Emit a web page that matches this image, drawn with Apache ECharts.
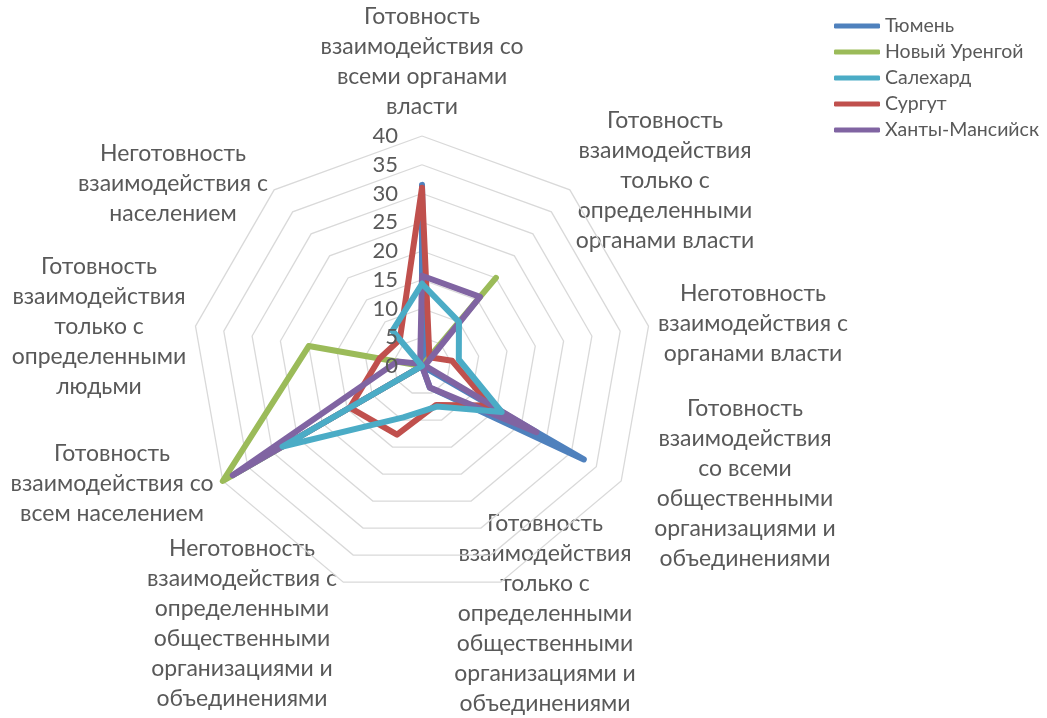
<!DOCTYPE html>
<html>
<head>
<meta charset="utf-8">
<script src="https://cdn.jsdelivr.net/npm/echarts@6/dist/echarts.min.js"></script>
<style>
html,body{margin:0;padding:0;background:#fff;}
#chart{width:1047px;height:718px;}
</style>
</head>
<body>
<div id="chart"></div>
<script>
// Axes, clockwise from the top
const categories = [
  'Готовность\nвзаимодействия со\nвсеми органами\nвласти',
  'Готовность\nвзаимодействия\nтолько с\nопределенными\nорганами власти',
  'Неготовность\nвзаимодействия с\nорганами власти',
  'Готовность\nвзаимодействия\nсо всеми\nобщественными\nорганизациями и\nобъединениями',
  'Готовность\nвзаимодействия\nтолько с\nопределенными\nобщественными\nорганизациями и\nобъединениями',
  'Неготовность\nвзаимодействия с\nопределенными\nобщественными\nорганизациями и\nобъединениями',
  'Готовность\nвзаимодействия со\nвсем населением',
  'Готовность\nвзаимодействия\nтолько с\nопределенными\nлюдьми',
  'Неготовность\nвзаимодействия с\nнаселением'
];
const seriesNames = ['Тюмень', 'Новый Уренгой', 'Салехард', 'Сургут', 'Ханты-Мансийск'];
const tyumen     = [31.5, 1, 0, 32.5, 4, 0, 38, 0, 0];
const novUrengoy = [0, 20, 0, 0, 0, 0, 40, 20, 0];
const salekhard  = [14.3, 10, 6.5, 16, 7.5, 9.5, 28, 0, 8];
const surgut     = [31, 2, 5.3, 13.7, 7.2, 12.7, 14.5, 7.5, 6];
const khm        = [15.7, 15.7, 0.5, 23, 4, 0, 38, 4.4, 0.5];
const axisMin = 0, axisMax = 40, axisStep = 5;

// layout (not data)
const colors = {
  'Тюмень': '#4F81BD', 'Новый Уренгой': '#9BBB59', 'Салехард': '#4BACC6',
  'Сургут': '#C0504D', 'Ханты-Мансийск': '#8064A2'
};
const labelPos = [[422,2],[665,106],[753,279],[745,394],[545,509],[242,534],[112,439],[99,252],[173,139]];
const drawOrder = ['Тюмень', 'Новый Уренгой', 'Сургут', 'Ханты-Мансийск', 'Салехард'];
const values = {
  'Тюмень': tyumen, 'Новый Уренгой': novUrengoy, 'Салехард': salekhard,
  'Сургут': surgut, 'Ханты-Мансийск': khm
};

// ECharts radar runs counter-clockwise: reorder so the picture runs clockwise
const n = categories.length;
const order = [0];
for (let i = n - 1; i >= 1; i--) order.push(i);

const FONT = 'Lato, "Open Sans", sans-serif';
const TXT = '#595959';
const CENTER = [422, 366], RADIUS = 230;

function radarBase(withGrid, z) {
  return {
    center: CENTER,
    radius: RADIUS,
    startAngle: 90,
    splitNumber: (axisMax - axisMin) / axisStep,
    shape: 'polygon',
    z: z,
    axisName: {show: false},
    splitLine: {show: withGrid, lineStyle: {color: '#d9d9d9', width: 1.3}},
    splitArea: {show: false},
    axisLine: {show: false},
    axisTick: {show: false},
    axisLabel: {show: false},
    indicator: order.map((k, j) => {
      const ind = {name: categories[k], min: axisMin, max: axisMax};
      if (!withGrid && j === 0) {
        ind.axisLabel = {show: true, fontFamily: FONT, fontSize: 22, color: TXT, margin: 24};
      }
      return ind;
    })
  };
}

const chart = echarts.init(document.getElementById('chart'), null, {renderer: 'canvas'});
const option = {
  animation: false,
  backgroundColor: '#fff',
  legend: {
    orient: 'vertical',
    left: 834, top: 16,
    data: seriesNames,
    icon: 'roundRect',
    itemWidth: 46, itemHeight: 5, itemGap: 6,
    padding: 0,
    textStyle: {fontFamily: FONT, fontSize: 19.5, color: TXT, lineHeight: 20}
  },
  radar: [radarBase(true, 0), radarBase(false, 10)],
  graphic: categories.map((c, k) => ({
    type: 'text',
    x: labelPos[k][0], y: labelPos[k][1],
    silent: true,
    style: {
      text: c,
      textAlign: 'center', textVerticalAlign: 'top',
      font: '23px ' + FONT, lineHeight: 30, fill: TXT
    }
  })),
  series: drawOrder.map(name => ({
    type: 'radar',
    radarIndex: 0,
    symbol: 'none',
    lineStyle: {width: 6, color: colors[name], cap: 'round', join: 'round'},
    itemStyle: {color: colors[name]},
    data: [{name: name, value: order.map(k => values[name][k])}]
  }))
};
chart.setOption(option);
</script>
</body>
</html>
